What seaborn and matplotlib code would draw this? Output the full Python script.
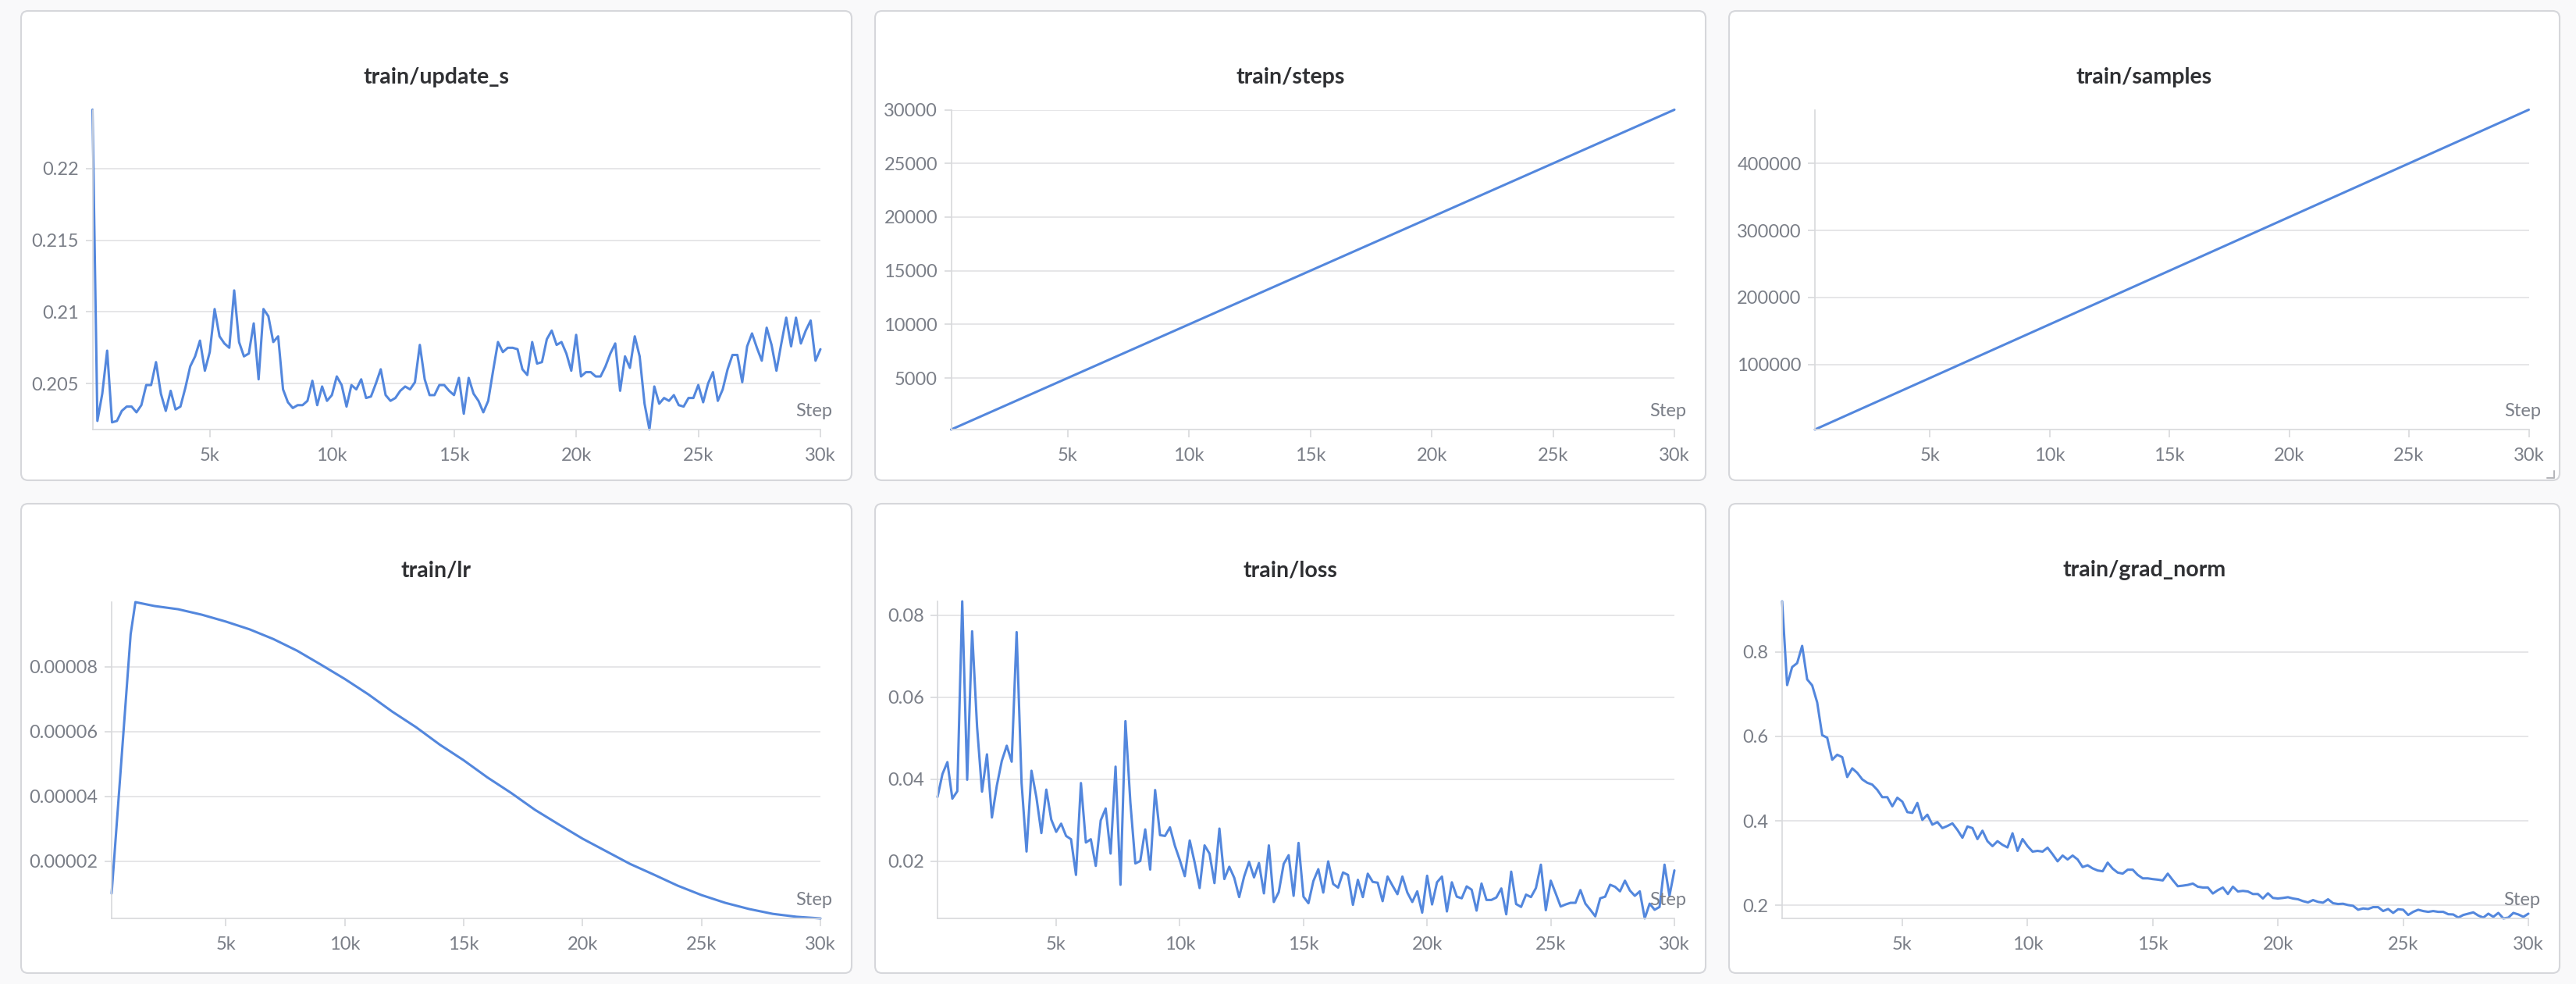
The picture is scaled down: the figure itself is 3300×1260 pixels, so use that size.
import numpy as np
import matplotlib
matplotlib.use("Agg")
import matplotlib.pyplot as plt
import seaborn as sns
from matplotlib.patches import FancyBboxPatch
from matplotlib.lines import Line2D
from matplotlib.transforms import IdentityTransform

# ---- data ----
log_every = 200
step = np.arange(log_every, 30000 + log_every, log_every)  # logged steps 200..30000

update_s = [
    0.2241, 0.2024, 0.2043, 0.2073, 0.2023, 0.2024, 0.2031, 0.2034, 0.2034, 0.2030,
    0.2035, 0.2049, 0.2049, 0.2065, 0.2043, 0.2031, 0.2045, 0.2032, 0.2034, 0.2047,
    0.2062, 0.2069, 0.2080, 0.2059, 0.2072, 0.2102, 0.2083, 0.2078, 0.2075, 0.2115,
    0.2079, 0.2069, 0.2071, 0.2092, 0.2053, 0.2102, 0.2097, 0.2079, 0.2083, 0.2046,
    0.2037, 0.2033, 0.2035, 0.2035, 0.2038, 0.2052, 0.2035, 0.2048, 0.2038, 0.2042,
    0.2055, 0.2049, 0.2034, 0.2049, 0.2046, 0.2053, 0.2040, 0.2041, 0.2050, 0.2060,
    0.2042, 0.2038, 0.2040, 0.2045, 0.2048, 0.2046, 0.2051, 0.2077, 0.2053, 0.2042,
    0.2042, 0.2049, 0.2049, 0.2045, 0.2042, 0.2054, 0.2029, 0.2054, 0.2043, 0.2038,
    0.2030, 0.2038, 0.2059, 0.2079, 0.2072, 0.2075, 0.2075, 0.2074, 0.2060, 0.2056,
    0.2079, 0.2064, 0.2065, 0.2081, 0.2087, 0.2077, 0.2079, 0.2071, 0.2059, 0.2084,
    0.2055, 0.2058, 0.2058, 0.2055, 0.2055, 0.2062, 0.2071, 0.2078, 0.2045, 0.2069,
    0.2061, 0.2083, 0.2069, 0.2036, 0.2018, 0.2048, 0.2036, 0.2040, 0.2038, 0.2042,
    0.2035, 0.2034, 0.2040, 0.2040, 0.2049, 0.2037, 0.2050, 0.2058, 0.2038, 0.2046,
    0.2060, 0.2070, 0.2070, 0.2051, 0.2076, 0.2085, 0.2075, 0.2066, 0.2089, 0.2077,
    0.2059, 0.2078, 0.2096, 0.2076, 0.2096, 0.2078, 0.2087, 0.2094, 0.2066, 0.2074,
]

loss = [
    0.0357, 0.0413, 0.0442, 0.0353, 0.0371, 0.0834, 0.0399, 0.0761, 0.0528, 0.0370,
    0.0461, 0.0307, 0.0385, 0.0445, 0.0482, 0.0443, 0.0759, 0.0391, 0.0224, 0.0421,
    0.0356, 0.0269, 0.0375, 0.0302, 0.0272, 0.0292, 0.0262, 0.0254, 0.0167, 0.0391,
    0.0246, 0.0254, 0.0189, 0.0300, 0.0329, 0.0219, 0.0431, 0.0143, 0.0542, 0.0343,
    0.0195, 0.0201, 0.0278, 0.0180, 0.0374, 0.0264, 0.0262, 0.0283, 0.0238, 0.0203,
    0.0164, 0.0251, 0.0197, 0.0135, 0.0239, 0.0219, 0.0147, 0.0280, 0.0157, 0.0187,
    0.0160, 0.0113, 0.0163, 0.0199, 0.0161, 0.0196, 0.0122, 0.0239, 0.0101, 0.0125,
    0.0194, 0.0215, 0.0116, 0.0245, 0.0114, 0.0098, 0.0152, 0.0181, 0.0124, 0.0200,
    0.0145, 0.0136, 0.0173, 0.0167, 0.0094, 0.0155, 0.0113, 0.0170, 0.0150, 0.0148,
    0.0103, 0.0163, 0.0141, 0.0120, 0.0163, 0.0124, 0.0101, 0.0127, 0.0075, 0.0165,
    0.0095, 0.0149, 0.0163, 0.0078, 0.0149, 0.0114, 0.0110, 0.0139, 0.0131, 0.0080,
    0.0146, 0.0106, 0.0106, 0.0112, 0.0134, 0.0071, 0.0175, 0.0096, 0.0089, 0.0119,
    0.0113, 0.0135, 0.0192, 0.0081, 0.0153, 0.0122, 0.0090, 0.0095, 0.0099, 0.0099,
    0.0130, 0.0097, 0.0082, 0.0066, 0.0110, 0.0114, 0.0143, 0.0138, 0.0127, 0.0153,
    0.0129, 0.0116, 0.0127, 0.0061, 0.0097, 0.0082, 0.0089, 0.0192, 0.0116, 0.0178,
]

grad_norm = [
    0.9196, 0.7213, 0.7640, 0.7733, 0.8142, 0.7349, 0.7206, 0.6803, 0.6029, 0.5967,
    0.5446, 0.5564, 0.5508, 0.5037, 0.5242, 0.5136, 0.4981, 0.4901, 0.4857, 0.4733,
    0.4560, 0.4560, 0.4343, 0.4547, 0.4454, 0.4206, 0.4188, 0.4423, 0.4021, 0.4145,
    0.3909, 0.3971, 0.3828, 0.3878, 0.3940, 0.3785, 0.3599, 0.3866, 0.3828, 0.3568,
    0.3766, 0.3518, 0.3401, 0.3518, 0.3432, 0.3370, 0.3705, 0.3289, 0.3568, 0.3401,
    0.3271, 0.3289, 0.3271, 0.3364, 0.3209, 0.3041, 0.3178, 0.3085, 0.3178, 0.3085,
    0.2905, 0.2948, 0.2874, 0.2824, 0.2806, 0.3010, 0.2868, 0.2775, 0.2750, 0.2843,
    0.2843, 0.2719, 0.2638, 0.2638, 0.2620, 0.2607, 0.2589, 0.2750, 0.2595, 0.2452,
    0.2465, 0.2483, 0.2514, 0.2440, 0.2421, 0.2421, 0.2279, 0.2359, 0.2421, 0.2267,
    0.2440, 0.2328, 0.2341, 0.2328, 0.2267, 0.2267, 0.2161, 0.2285, 0.2174, 0.2161,
    0.2174, 0.2192, 0.2161, 0.2143, 0.2099, 0.2068, 0.2124, 0.2081, 0.2062, 0.2143,
    0.2050, 0.2031, 0.2037, 0.2006, 0.1988, 0.1895, 0.1926, 0.1913, 0.1957, 0.1957,
    0.1864, 0.1913, 0.1820, 0.1907, 0.1895, 0.1771, 0.1845, 0.1895, 0.1864, 0.1845,
    0.1864, 0.1845, 0.1845, 0.1789, 0.1783, 0.1709, 0.1771, 0.1802, 0.1833, 0.1758,
    0.1709, 0.1802, 0.1727, 0.1820, 0.1690, 0.1709, 0.1820, 0.1783, 0.1727, 0.1802,
]

lr_step = [200, 400, 600, 800, 1000, 1200, 2000, 3000, 4000, 5000, 6000, 7000, 8000,
           9000, 10000, 11000, 12000, 13000, 14000, 15000, 16000, 17000, 18000, 19000,
           20000, 21000, 22000, 23000, 24000, 25000, 26000, 27000, 28000, 29000, 30000]
lr = [1.0e-5, 3.0e-5, 5.0e-5, 7.0e-5, 9.0e-5, 9.99e-5, 9.87e-5, 9.77e-5, 9.60e-5,
      9.39e-5, 9.15e-5, 8.85e-5, 8.49e-5, 8.06e-5, 7.62e-5, 7.14e-5, 6.61e-5, 6.13e-5,
      5.59e-5, 5.11e-5, 4.58e-5, 4.10e-5, 3.58e-5, 3.13e-5, 2.69e-5, 2.30e-5, 1.91e-5,
      1.58e-5, 1.24e-5, 9.5e-6, 7.1e-6, 5.2e-6, 3.7e-6, 2.8e-6, 2.3e-6]

count_step = [200, 5000, 10000, 15000, 20000, 25000, 30000]
train_steps = [200, 5000, 10000, 15000, 20000, 25000, 30000]
train_samples = [3200, 80000, 160000, 240000, 320000, 400000, 480000]

x_ticks = [5000, 10000, 15000, 20000, 25000, 30000]
x_ticklabels = ["5k", "10k", "15k", "20k", "25k", "30k"]

# ---- style ----
sns.set_theme(style="white")
plt.rcParams["font.family"] = ["Lato", "DejaVu Sans"]

W, H = 3300, 1260
page_bg = "#f9f9fa"
line_col = "#5387dd"
grid_col = "#e2e2e4"
axis_col = "#d8d9dc"
tick_col = "#7a7e87"
title_col = "#2f3033"

fig = plt.figure(figsize=(W / 100, H / 100), dpi=100, facecolor=page_bg)

col_x = [27, 1121, 2215]
row_y = [14, 645]
panel_w, panel_h = 1064, 601

# title, x, y, col, row, axes box (left, top, right, bottom in px), yticks, yticklabels
panels = [
    ("train/update_s", step, update_s, 0, 0, (118.5, 140.5, 1051, 550),
     [0.205, 0.21, 0.215, 0.22], ["0.205", "0.21", "0.215", "0.22"]),
    ("train/steps", count_step, train_steps, 1, 0, (1218.5, 140.5, 2145, 550),
     [5000, 10000, 15000, 20000, 25000, 30000],
     ["5000", "10000", "15000", "20000", "25000", "30000"]),
    ("train/samples", count_step, train_samples, 2, 0, (2325, 140.5, 3239.5, 550),
     [100000, 200000, 300000, 400000], ["100000", "200000", "300000", "400000"]),
    ("train/lr", lr_step, lr, 0, 1, (143, 771, 1051, 1176),
     [0.00002, 0.00004, 0.00006, 0.00008],
     ["0.00002", "0.00004", "0.00006", "0.00008"]),
    ("train/loss", step, loss, 1, 1, (1201, 770, 2145, 1176),
     [0.02, 0.04, 0.06, 0.08], ["0.02", "0.04", "0.06", "0.08"]),
    ("train/grad_norm", step, grad_norm, 2, 1, (2283, 770, 3239, 1176),
     [0.2, 0.4, 0.6, 0.8], ["0.2", "0.4", "0.6", "0.8"]),
]

for title, xs, ys, c, r, box, yt, ytl in panels:
    px, py = col_x[c], row_y[r]
    card = FancyBboxPatch((px, H - py - panel_h), panel_w, panel_h,
                          boxstyle="round,pad=0,rounding_size=9",
                          transform=IdentityTransform(), facecolor="white",
                          edgecolor="#d6d7db", linewidth=1.5, zorder=-5)
    fig.add_artist(card)

    fig.text((px + panel_w / 2) / W, 1 - (py + 85) / H, title,
             ha="center", va="center", fontsize=20.5, fontweight="bold",
             color=title_col)

    left, top, right, bottom = box
    ax = fig.add_axes([left / W, 1 - bottom / H, (right - left) / W, (bottom - top) / H])
    ax.set_facecolor("none")

    sns.lineplot(x=xs, y=ys, ax=ax, color=line_col, linewidth=2.2,
                 errorbar=None, clip_on=False)

    ax.set_xlim(200, 30000)
    ax.set_ylim(min(ys), max(ys))
    ax.set_xticks(x_ticks)
    ax.set_xticklabels(x_ticklabels)
    ax.set_yticks(yt)
    ax.set_yticklabels(ytl)
    ax.set_xlabel("")
    ax.set_ylabel("")

    ax.set_axisbelow(True)
    ax.yaxis.grid(True, color=grid_col, linewidth=1.2)
    ax.xaxis.grid(False)
    for s in ["top", "right"]:
        ax.spines[s].set_visible(False)
    for s in ["left", "bottom"]:
        ax.spines[s].set_color(axis_col)
        ax.spines[s].set_linewidth(1.2)

    ax.tick_params(axis="x", bottom=True, length=7.5, width=1.2, color=axis_col,
                   pad=9, labelsize=17, labelcolor=tick_col)
    ax.tick_params(axis="y", left=True, length=6.5, width=1.2, color=axis_col,
                   pad=6, labelsize=17, labelcolor=tick_col)

    ax.annotate("Step", xy=(1, 0), xycoords="axes fraction", xytext=(11, 17),
                textcoords="offset points", ha="right", va="center",
                fontsize=17, color=tick_col)

# small resize handle in the corner of the samples card
fig.add_artist(Line2D([3272, 3272, 3263], [H - 603, H - 612, H - 612],
                      transform=IdentityTransform(), color="#b5b6ba", linewidth=1.5))

fig.savefig("out.png", dpi=100, facecolor=fig.get_facecolor())
